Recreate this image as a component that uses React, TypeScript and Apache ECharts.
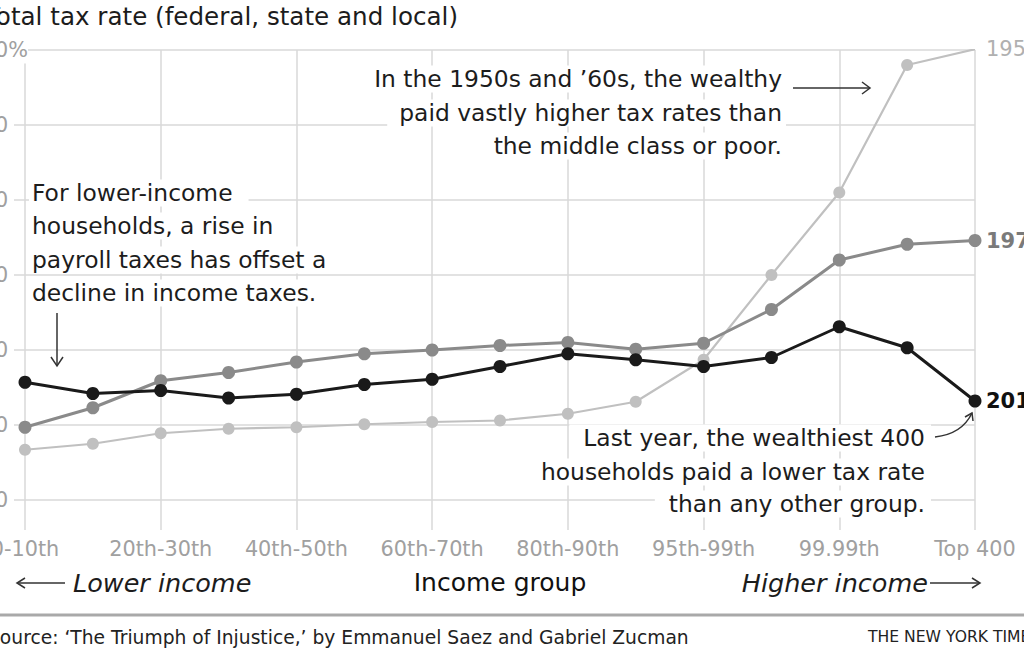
import React, { useEffect, useRef } from "react";
import * as echarts from "echarts";

const categories = [
  "0-10th", "10th-20th", "20th-30th", "30th-40th", "40th-50th", "50th-60th",
  "60th-70th", "70th-80th", "80th-90th", "90th-95th", "95th-99th",
  "99th-99.9th", "99.99th", "Top 0.001%", "Top 400",
];
const rate1950 = [16.7, 17.5, 18.9, 19.5, 19.7, 20.1, 20.4, 20.6, 21.5, 23.1, 28.7, 40.0, 51.0, 68.0, 70.1];
const rate1970 = [19.7, 22.3, 25.9, 27.0, 28.4, 29.5, 30.0, 30.6, 31.0, 30.1, 30.9, 35.4, 42.0, 44.1, 44.6];
const rate2018 = [25.7, 24.2, 24.6, 23.6, 24.1, 25.4, 26.1, 27.8, 29.5, 28.7, 27.8, 29.0, 33.1, 30.3, 23.2];
const seriesYears = ["1950", "1970", "2018"];
const yMin = 10;
const yMax = 70;
const yStep = 10;

const titleText = "Total tax rate (federal, state and local)";
const noteLow = ["For lower-income", "households, a rise in", "payroll taxes has offset a", "decline in income taxes."];
const noteHigh = ["In the 1950s and \u201960s, the wealthy", "paid vastly higher tax rates than", "the middle class or poor."];
const note400 = ["Last year, the wealthiest 400", "households paid a lower tax rate", "than any other group."];
const sourceText = "Source: \u2018The Triumph of Injustice,\u2019 by Emmanuel Saez and Gabriel Zucman";
const creditText = "THE NEW YORK TIMES";

const FONT = '"DejaVu Sans", "Liberation Sans", Arial, sans-serif';
const GRID = "#d9d9d9";
const INK = "#1c1c1c";
const ARROW = "#333333";

function textLine(text: string, x: number, y: number, align: string, pad: number[]) {
  return {
    type: "text",
    x,
    y,
    z: 1,
    silent: true,
    style: {
      text,
      fill: INK,
      fontSize: 23.4,
      fontFamily: FONT,
      align,
      verticalAlign: "middle",
      backgroundColor: "#ffffff",
      padding: pad,
    },
  };
}

function line(x1: number, y1: number, x2: number, y2: number) {
  return {
    type: "line",
    z: 1,
    silent: true,
    shape: { x1, y1, x2, y2 },
    style: { stroke: ARROW, lineWidth: 1.5 },
  };
}

function chevron(points: number[][]) {
  return {
    type: "polyline",
    z: 1,
    silent: true,
    shape: { points },
    style: { stroke: ARROW, lineWidth: 1.5, fill: null },
  };
}

export default function App() {
  const ref = useRef<HTMLDivElement>(null);

  useEffect(() => {
    if (!ref.current) return;
    const chart = echarts.init(ref.current, undefined, { renderer: "svg" });

    const graphics: any[] = [];
    graphics.push({
      type: "text",
      x: -15,
      y: 16,
      silent: true,
      style: { text: titleText, fill: INK, fontSize: 24.6, fontFamily: FONT, align: "left", verticalAlign: "middle" },
    });
    const lowYs = [193, 226, 260, 293];
    noteLow.forEach((t, i) => graphics.push(textLine(t, 29, lowYs[i], "left", [2, 16, 2, 3])));
    const highYs = [79, 113, 146];
    noteHigh.forEach((t, i) => graphics.push(textLine(t, 786, highYs[i], "right", [2, 4, 2, 12])));
    const y400 = [438, 472, 504];
    note400.forEach((t, i) => graphics.push(textLine(t, 931, y400[i], "right", [2, 6, 2, 14])));

    // arrows
    graphics.push(line(57, 313, 57, 365));
    graphics.push(chevron([[51, 357], [57, 366], [63, 357]]));
    graphics.push(line(793, 88, 870, 88));
    graphics.push(chevron([[862, 82], [870, 88], [862, 94]]));
    graphics.push({
      type: "bezierCurve",
      z: 1,
      silent: true,
      shape: { x1: 935, y1: 437, x2: 972, y2: 413, cpx1: 962, cpy1: 434 },
      style: { stroke: ARROW, lineWidth: 1.5, fill: null },
    });
    graphics.push(chevron([[965, 417], [972, 413], [973, 421]]));

    // bottom direction labels
    graphics.push(line(17, 583, 65, 583));
    graphics.push(chevron([[25, 578], [17, 583], [25, 588]]));
    graphics.push({
      type: "text",
      x: 73,
      y: 583,
      silent: true,
      style: { text: "Lower income", fill: INK, fontSize: 25.5, fontStyle: "italic", fontFamily: FONT, align: "left", verticalAlign: "middle" },
    });
    graphics.push({
      type: "text",
      x: 928,
      y: 583,
      silent: true,
      style: { text: "Higher income", fill: INK, fontSize: 25.5, fontStyle: "italic", fontFamily: FONT, align: "right", verticalAlign: "middle" },
    });
    graphics.push(line(930, 583, 980, 583));
    graphics.push(chevron([[972, 578], [980, 583], [972, 588]]));
    graphics.push({
      type: "text",
      x: 500,
      y: 582,
      silent: true,
      style: { text: "Income group", fill: "#111", fontSize: 25, fontFamily: FONT, align: "center", verticalAlign: "middle" },
    });

    // footer
    graphics.push({
      type: "rect",
      silent: true,
      shape: { x: 0, y: 613.5, width: 1024, height: 3 },
      style: { fill: "#a9a9a9" },
    });
    graphics.push({
      type: "text",
      x: -12,
      y: 637,
      silent: true,
      style: { text: sourceText, fill: "#222", fontSize: 18.7, fontFamily: FONT, align: "left", verticalAlign: "middle" },
    });
    graphics.push({
      type: "text",
      x: 868,
      y: 637,
      silent: true,
      style: { text: creditText, fill: "#222", fontSize: 15.6, fontFamily: FONT, align: "left", verticalAlign: "middle" },
    });

    const labelStyle = { color: "#a0a0a0", fontSize: 20.8, fontFamily: FONT };

    const mkSeries = (name: string, data: number[], color: string, width: number, size: number, z: number, labelColor: string, bold: boolean) => ({
      name,
      type: "line",
      data,
      z,
      symbol: "circle",
      symbolSize: size,
      showSymbol: true,
      showAllSymbol: true,
      silent: true,
      lineStyle: { color, width },
      itemStyle: { color },
      emphasis: { disabled: true },
      endLabel: {
        show: true,
        formatter: name,
        color: labelColor,
        fontSize: 21,
        fontFamily: FONT,
        fontWeight: bold ? "bold" : "normal",
        distance: 11,
      },
    });

    chart.setOption({
      animation: false,
      backgroundColor: "#ffffff",
      grid: { left: 25, right: 49, top: 50, bottom: 150, containLabel: false, outerBoundsMode: "none" },
      xAxis: {
        type: "category",
        data: categories,
        boundaryGap: false,
        axisLine: { show: false },
        axisTick: { show: true, interval: 1, length: 30, lineStyle: { color: GRID, width: 1.5 } },
        splitLine: { show: true, interval: 1, lineStyle: { color: GRID, width: 1.5 } },
        axisLabel: { interval: 1, margin: 38, ...labelStyle },
      },
      yAxis: {
        type: "value",
        min: yMin,
        max: yMax,
        interval: yStep,
        axisLine: { show: false },
        axisTick: { show: true, length: 11, lineStyle: { color: GRID, width: 1.5 } },
        splitLine: { show: true, lineStyle: { color: GRID, width: 1.5 } },
        axisLabel: {
          margin: -3,
          align: "right",
          formatter: (v: number) => (v === yMax ? `{t|${v}}{p|%}` : `{a|${v}}{q|%}`),
          rich: {
            a: { ...labelStyle },
            t: { ...labelStyle, backgroundColor: "#ffffff" },
            p: { ...labelStyle, backgroundColor: "#ffffff", padding: [3, 0, 3, 0] },
            q: { ...labelStyle, color: "rgba(0,0,0,0)" },
          },
        },
      },
      series: [
        mkSeries(seriesYears[0], rate1950, "#c0c0c0", 2.2, 12, 2, "#b0b0b0", false),
        mkSeries(seriesYears[1], rate1970, "#8a8a8a", 3, 13, 3, "#7a7a7a", true),
        mkSeries(seriesYears[2], rate2018, "#1a1a1a", 3, 13, 4, "#111111", true),
      ],
      graphic: { elements: graphics },
    });

    return () => chart.dispose();
  }, []);

  return (
    <div
      ref={ref}
      style={{ position: "fixed", left: 0, top: 0, width: 1024, height: 650, background: "#fff" }}
    />
  );
}
